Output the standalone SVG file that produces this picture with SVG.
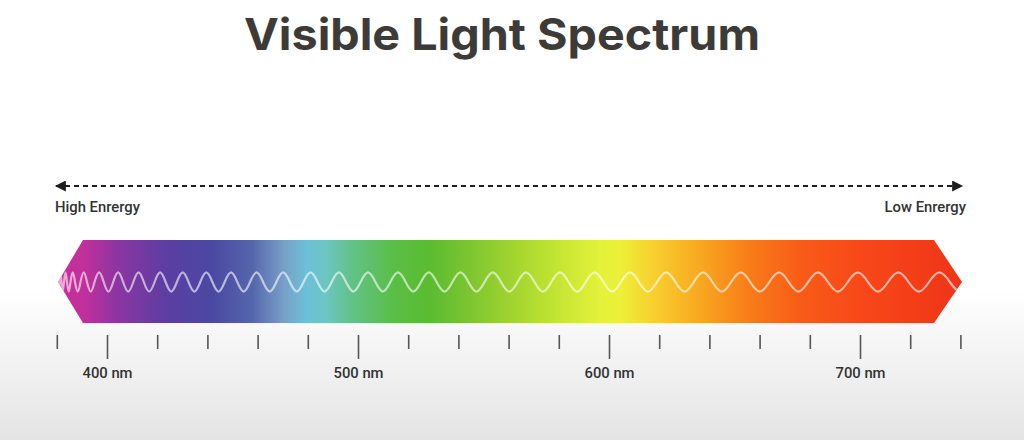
<svg xmlns="http://www.w3.org/2000/svg" width="1024" height="440" viewBox="0 0 1024 440">
<defs>
<linearGradient id="bg" x1="0" y1="0" x2="0" y2="440" gradientUnits="userSpaceOnUse">
<stop offset="0" stop-color="#ffffff"/>
<stop offset="0.66" stop-color="#ffffff"/>
<stop offset="1" stop-color="#e4e4e4"/>
</linearGradient>
<linearGradient id="spec" x1="58" y1="0" x2="962" y2="0" gradientUnits="userSpaceOnUse">
<stop offset="0" stop-color="#c8309a"/>
<stop offset="0.03" stop-color="#c0309c"/>
<stop offset="0.065" stop-color="#8c35a2"/>
<stop offset="0.12" stop-color="#5c3ea2"/>
<stop offset="0.17" stop-color="#4a48a2"/>
<stop offset="0.215" stop-color="#5566ac"/>
<stop offset="0.25" stop-color="#78a0c8"/>
<stop offset="0.275" stop-color="#6cc0d8"/>
<stop offset="0.297" stop-color="#6cc6c0"/>
<stop offset="0.325" stop-color="#62c288"/>
<stop offset="0.37" stop-color="#5abe48"/>
<stop offset="0.41" stop-color="#5abc30"/>
<stop offset="0.45" stop-color="#78c430"/>
<stop offset="0.49" stop-color="#98d030"/>
<stop offset="0.535" stop-color="#b8e030"/>
<stop offset="0.6" stop-color="#e4f23a"/>
<stop offset="0.622" stop-color="#ecf038"/>
<stop offset="0.658" stop-color="#f8d030"/>
<stop offset="0.71" stop-color="#f8a820"/>
<stop offset="0.765" stop-color="#f87c18"/>
<stop offset="0.821" stop-color="#f85c18"/>
<stop offset="0.887" stop-color="#f84818"/>
<stop offset="1" stop-color="#ee3418"/>
</linearGradient>
<clipPath id="bandClip">
<path d="M58,282 L83,240 L934,240 L962,282 L934,323 L83,323 Z"/>
</clipPath>
<marker id="arrow" viewBox="0 0 10 10" refX="9" refY="5" markerWidth="13" markerHeight="11" markerUnits="userSpaceOnUse" orient="auto-start-reverse">
<path d="M0,0 L10,5 L0,10 Z" fill="#1e1e1e"/>
</marker>
</defs>
<style>
.title{font-family:Inter,"Liberation Sans",sans-serif;font-weight:700;font-size:44px;fill:#3d3b37}
.lbl{font-family:Roboto,"Liberation Sans",sans-serif;font-weight:500;font-size:14.8px;fill:#333333}
.tick{stroke:#555555;stroke-width:1.6}
.wave{fill:none;stroke:#ffffff;stroke-opacity:0.6;stroke-width:2.2}
</style>
<rect x="0" y="0" width="1024" height="440" fill="url(#bg)"/>
<g id="title">
<text class="title" x="244" y="50" textLength="516" lengthAdjust="spacingAndGlyphs">Visible Light Spectrum</text>
</g>
<g id="connectors">
<line x1="56" y1="186" x2="962" y2="186" stroke="#1e1e1e" stroke-width="1.8" stroke-dasharray="5 4" marker-start="url(#arrow)" marker-end="url(#arrow)"/>
</g>
<g id="energy-labels">
<text class="lbl" x="55" y="212">High Enrergy</text>
<text class="lbl" x="966" y="212" text-anchor="end">Low Enrergy</text>
</g>
<g id="spectrum">
<path d="M58,282 L83,240 L934,240 L962,282 L934,323 L83,323 Z" fill="url(#spec)"/>
<path class="wave" clip-path="url(#bandClip)" d="M58,282 C58.6,294.7 58.9,294.7 59.5,282 C60.3,269.3 60.7,269.3 61.5,282 C62.6,294.7 62.9,294.7 64,282 C65.3,269.3 65.7,269.3 67,282 C68.5,294.7 69,294.7 70.5,282 C72.4,269.3 73.1,269.3 75,282 C77.3,294.7 78.2,294.7 80.5,282 C83.3,269.3 84.2,269.3 87,282 C90.2,294.7 91.3,294.7 94.5,282 C98.4,269.3 99.8,269.3 103.7,282 C107.7,294.7 109.2,294.7 113.2,282 C117.4,269.3 118.9,269.3 123.1,282 C127.4,294.7 129,294.7 133.3,282 C137.8,269.3 139.3,269.3 143.8,282 C148.4,294.7 150,294.7 154.6,282 C159.3,269.3 160.9,269.3 165.6,282 C170.4,294.7 172.1,294.7 176.9,282 C181.8,269.3 183.6,269.3 188.5,282 C193.5,294.7 195.3,294.7 200.3,282 C205.4,269.3 207.3,269.3 212.4,282 C217.6,294.7 219.5,294.7 224.7,282 C230,269.3 232,269.3 237.3,282 C242.7,294.7 244.7,294.7 250.1,282 C255.6,269.3 257.6,269.3 263.1,282 C268.7,294.7 270.8,294.7 276.4,282 C282.1,269.3 284.2,269.3 289.9,282 C295.7,294.7 297.8,294.7 303.6,282 C309.5,269.3 311.6,269.3 317.5,282 C323.5,294.7 325.7,294.7 331.7,282 C337.8,269.3 339.9,269.3 346,282 C352.2,294.7 354.4,294.7 360.6,282 C366.9,269.3 369.1,269.3 375.4,282 C381.8,294.7 384,294.7 390.4,282 C396.9,269.3 399.2,269.3 405.6,282 C412.1,294.7 414.5,294.7 421,282 C427.6,269.3 430,269.3 436.6,282 C443.3,294.7 445.7,294.7 452.4,282 C459.2,269.3 461.6,269.3 468.4,282 C475.3,294.7 477.7,294.7 484.6,282 C491.6,269.3 494,269.3 501,282 C508,294.7 510.6,294.7 517.6,282 C524.7,269.3 527.3,269.3 534.4,282 C541.6,294.7 544.2,294.7 551.4,282 C558.7,269.3 561.2,269.3 568.5,282 C575.8,294.7 578.5,294.7 585.8,282 C593.2,269.3 595.9,269.3 603.3,282 C610.8,294.7 613.5,294.7 621,282 C628.6,269.3 631.3,269.3 638.9,282 C646.6,294.7 649.3,294.7 657,282 C664.8,269.3 667.5,269.3 675.3,282 C683.2,294.7 686,294.7 693.8,282 C701.7,269.3 704.5,269.3 712.4,282 C720.4,294.7 723.2,294.7 731.2,282 C739.3,269.3 742.1,269.3 750.2,282 C758.4,294.7 761.3,294.7 769.4,282 C777.6,269.3 780.5,269.3 788.7,282 C797,294.7 799.9,294.7 808.2,282 C816.6,269.3 819.5,269.3 827.9,282 C836.4,294.7 839.4,294.7 847.8,282 C856.3,269.3 859.4,269.3 867.9,282 C876.5,294.7 879.5,294.7 888.1,282 C896.8,269.3 899.8,269.3 908.5,282 C917.2,294.7 920.4,294.7 929.1,282 C937.9,269.3 941,269.3 949.8,282 C958.6,294.7 961.8,294.7 970.6,282"/>
</g>
<g id="scale">
<line class="tick" x1="57.3" y1="335" x2="57.3" y2="349"/>
<line class="tick" x1="107.5" y1="335" x2="107.5" y2="359"/>
<line class="tick" x1="157.7" y1="335" x2="157.7" y2="349"/>
<line class="tick" x1="207.9" y1="335" x2="207.9" y2="349"/>
<line class="tick" x1="258.1" y1="335" x2="258.1" y2="349"/>
<line class="tick" x1="308.3" y1="335" x2="308.3" y2="349"/>
<line class="tick" x1="358.5" y1="335" x2="358.5" y2="359"/>
<line class="tick" x1="408.7" y1="335" x2="408.7" y2="349"/>
<line class="tick" x1="458.9" y1="335" x2="458.9" y2="349"/>
<line class="tick" x1="509.1" y1="335" x2="509.1" y2="349"/>
<line class="tick" x1="559.3" y1="335" x2="559.3" y2="349"/>
<line class="tick" x1="609.5" y1="335" x2="609.5" y2="359"/>
<line class="tick" x1="659.7" y1="335" x2="659.7" y2="349"/>
<line class="tick" x1="709.9" y1="335" x2="709.9" y2="349"/>
<line class="tick" x1="760.1" y1="335" x2="760.1" y2="349"/>
<line class="tick" x1="810.3" y1="335" x2="810.3" y2="349"/>
<line class="tick" x1="860.5" y1="335" x2="860.5" y2="359"/>
<line class="tick" x1="910.7" y1="335" x2="910.7" y2="349"/>
<line class="tick" x1="960.9" y1="335" x2="960.9" y2="349"/>
<text class="lbl" x="107.5" y="378" text-anchor="middle">400 nm</text>
<text class="lbl" x="358.5" y="378" text-anchor="middle">500 nm</text>
<text class="lbl" x="609.5" y="378" text-anchor="middle">600 nm</text>
<text class="lbl" x="860.5" y="378" text-anchor="middle">700 nm</text>
</g>
</svg>
